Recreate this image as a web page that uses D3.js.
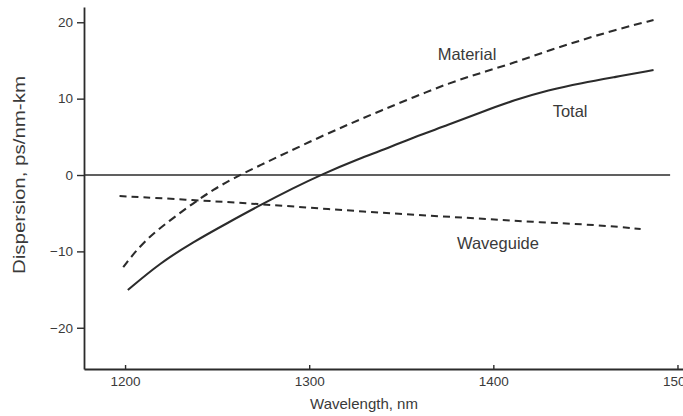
<!DOCTYPE html>
<html>
<head>
<meta charset="utf-8">
<script src="https://cdn.jsdelivr.net/npm/d3@7/dist/d3.min.js"></script>
<style>
  html, body { margin: 0; padding: 0; background: #fff; }
  svg { display: block; font-family: "Liberation Sans", Arial, Helvetica, sans-serif; }
</style>
</head>
<body>
<svg id="chart" width="683" height="416"></svg>
<script>
// Fibre dispersion versus wavelength: material, waveguide and total contributions
const wavelengthTicks = [1200, 1300, 1400, 1500];
const dispersionTicks = [-20, -10, 0, 10, 20];

const totalWl = [1201.5, 1219, 1237, 1255.5, 1273.5, 1291.5, 1306, 1328, 1340, 1357, 1375.5, 1393.5, 1411.5, 1430, 1448, 1466, 1487];
const totalD  = [-15.06, -11.52, -8.77, -6.29, -3.93, -1.70, 0, 2.23, 3.27, 4.98, 6.55, 8.25, 9.82, 11.13, 12.05, 12.83, 13.75];

const materialWl = [1199, 1209.9, 1224.5, 1237, 1248, 1259, 1273.5, 1288, 1306, 1322.5, 1339, 1357, 1375.5, 1393.5, 1411.5, 1430, 1448, 1466, 1487];
const materialD  = [-12.05, -8.7, -5.9, -3.7, -1.9, -0.4, 1.3, 2.95, 5.0, 6.75, 8.45, 10.21, 12.0, 13.4, 14.7, 16.3, 17.68, 18.99, 20.30];

const waveguideWl = [1197, 1237, 1273, 1310, 1349, 1386, 1421, 1458, 1480];
const waveguideD  = [-2.75, -3.27, -3.80, -4.45, -5.10, -5.60, -6.15, -6.55, -7.07];

const seriesNames = ["Total", "Material", "Waveguide"];

const svg = d3.select("#chart");
const ink = "#2b2b2b";
const textInk = "#3a3a3a";

const x = d3.scaleLinear().domain([1177.7, 1503]).range([84, 683]);
const y = d3.scaleLinear().domain([-25.4, 22]).range([369, 7]);

// axes
const yAxis = d3.axisLeft(y).tickValues(dispersionTicks).tickSizeInner(7).tickSizeOuter(0).tickPadding(4)
  .tickFormat(d => d < 0 ? "\u2212" + Math.abs(d) : String(d));
const gy = svg.append("g").attr("transform", `translate(${x.range()[0]},0)`).call(yAxis);

const xAxis = d3.axisBottom(x).tickValues(wavelengthTicks).tickSizeInner(-4).tickSizeOuter(0).tickPadding(7)
  .tickFormat(d3.format("d"));
const gx = svg.append("g").attr("transform", `translate(0,${y.range()[0]})`).call(xAxis);

[gx, gy].forEach(g => {
  g.select(".domain").attr("stroke", ink).attr("stroke-width", 1.8);
  g.selectAll(".tick line").attr("stroke", ink).attr("stroke-width", 1.4);
  g.selectAll(".tick text").attr("fill", textInk).attr("font-size", 13.5)
    .attr("font-family", "'Liberation Sans', Arial, sans-serif");
});

// zero reference
svg.append("line")
  .attr("x1", x.range()[0]).attr("x2", x(1496))
  .attr("y1", y(0)).attr("y2", y(0))
  .attr("stroke", ink).attr("stroke-width", 1.7);

const line = d3.line().curve(d3.curveBasis).x(d => x(d[0])).y(d => y(d[1]));
const zip = (a, b) => a.map((v, i) => [v, b[i]]);

const series = [
  { name: seriesNames[0], pts: zip(totalWl, totalD), dash: null, w: 2.1 },
  { name: seriesNames[1], pts: zip(materialWl, materialD), dash: "8,5", w: 2.1 },
  { name: seriesNames[2], pts: zip(waveguideWl, waveguideD), dash: "7,5", w: 2 }
];

svg.append("g").selectAll("path").data(series).join("path")
  .attr("d", d => line(d.pts))
  .attr("fill", "none")
  .attr("stroke", ink)
  .attr("stroke-width", d => d.w)
  .attr("stroke-dasharray", d => d.dash);

// curve labels
const labelAt = [
  { text: seriesNames[1], wl: 1385.7, d: 15.84 },
  { text: seriesNames[0], wl: 1441.7, d: 8.38 },
  { text: seriesNames[2], wl: 1402.5, d: -8.9 }
];
svg.append("g").selectAll("text").data(labelAt).join("text")
  .attr("x", d => x(d.wl)).attr("y", d => y(d.d)).attr("dy", "0.35em")
  .attr("text-anchor", "middle")
  .attr("font-size", 16.5).attr("fill", textInk)
  .text(d => d.text);

// axis titles
svg.append("text")
  .attr("x", 364).attr("y", 409)
  .attr("text-anchor", "middle").attr("font-size", 15).attr("fill", textInk)
  .text("Wavelength, nm");

svg.append("text")
  .attr("transform", `translate(25,${y(0)}) rotate(-90)`)
  .attr("text-anchor", "middle").attr("font-size", 16).attr("fill", textInk)
  .attr("textLength", 198).attr("lengthAdjust", "spacingAndGlyphs")
  .text("Dispersion, ps/nm-km");
</script>
</body>
</html>
